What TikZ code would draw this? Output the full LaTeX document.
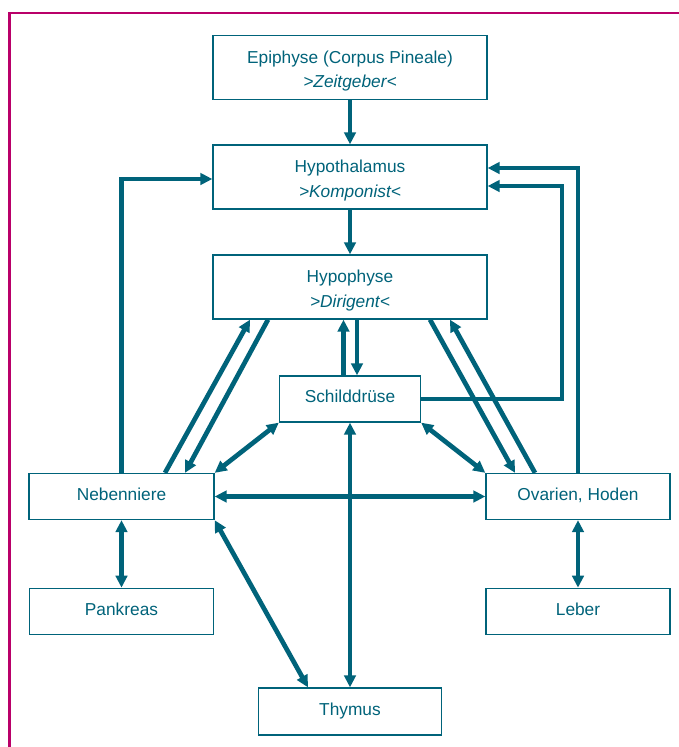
\documentclass[tikz,border=0pt]{standalone}
\usepackage{fontspec}
\setmainfont{Liberation Sans}
\usetikzlibrary{arrows.meta}
\definecolor{teal1}{RGB}{0,99,122}
\definecolor{frame1}{RGB}{185,0,105}
\begin{document}
\begin{tikzpicture}[x=1pt,y=-1pt,
  box/.style={draw=teal1,line width=1.3pt,fill=white,inner sep=0pt,minimum width=#1,minimum height=46pt,
    text=teal1,font=\fontsize{17.3}{20}\selectfont,text height=12.6pt,text depth=5pt},
  bigbox/.style={draw=teal1,line width=1.3pt,fill=white,inner sep=0pt,minimum width=274pt,minimum height=64pt},
  lbl/.style={anchor=base,inner sep=0pt,text=teal1,font=\fontsize{17.3}{20}\selectfont},
  ilbl/.style={lbl,font=\fontsize{17.3}{20}\selectfont\itshape},
  arr/.style={draw=teal1,line width=4.7pt,-{Triangle[length=12pt,width=11.5pt]}},
  darr/.style={draw=teal1,line width=4.7pt,{Triangle[length=12pt,width=11.5pt]}-{Triangle[length=12pt,width=11.5pt]}},
  fl/.style={draw=teal1,line width=4.7pt}
]
\useasboundingbox (0,0) rectangle (679,747);
\fill[white] (0,0) rectangle (679,747);
\draw[frame1,line width=2.5pt] (682,13) -- (9.5,13) -- (9.5,750);

% boxes
\node[bigbox] (epi) at (350,67.5) {};
\node[lbl] (epi1) at (350,63.3) {Epiphyse (Corpus Pineale)};
\node[ilbl] (epi2) at (350,87.7) {>Zeitgeber<};

\node[bigbox] (hth) at (350,177) {};
\node[lbl] (hth1) at (350,172.6) {Hypothalamus};
\node[ilbl] (hth2) at (350,197) {>Komponist<};

\node[bigbox] (hyp) at (350,287) {};
\node[lbl] (hyp1) at (350,282.6) {Hypophyse};
\node[ilbl] (hyp2) at (350,307) {>Dirigent<};

\node[box=141pt] (schild) at (350,399) {Schilddrüse};
\node[box=185pt] (neben) at (121.5,496.5) {Nebenniere};
\node[box=184pt] (ovar) at (578,496.5) {Ovarien, Hoden};
\node[box=184pt] (pank) at (121.5,611.3) {Pankreas};
\node[box=184pt] (leber) at (578,611.3) {Leber};
\node[box=183pt,minimum height=47pt] (thymus) at (350,711.5) {Thymus};

\coordinate (sc) at (562,399);

% connectors
\draw[arr] (epi.south) -- (hth.north);
\draw[arr] (hth.south) -- (hyp.north);
\draw[arr] ([xshift=-6.5pt]schild.north) -- ([xshift=-6.5pt]hyp.south);
\draw[arr] ([xshift=7pt]hyp.south) -- ([xshift=7pt]schild.north);

\draw[arr] (neben.north) |- ([yshift=-2pt]hth.west);
\draw[arr] (ovar.north) |- ([yshift=9pt]hth.east);
\draw[arr] (schild.east) -- (sc) |- ([yshift=-9pt]hth.east);

\draw[arr] ([xshift=43.5pt]neben.north) -- ([xshift=-100pt]hyp.south);
\draw[arr] ([xshift=-82pt]hyp.south) -- ([xshift=63.5pt]neben.north);
\draw[arr] ([xshift=80pt]hyp.south) -- ([xshift=-63pt]ovar.north);
\draw[arr] ([xshift=-43pt]ovar.north) -- ([xshift=100pt]hyp.south);

\draw[darr] (schild.south west) -- (neben.north east);
\draw[darr] (schild.south east) -- (ovar.north west);
\draw[darr] (neben.east) -- (ovar.west);
\draw[darr] (thymus.north) -- (schild.south);
\draw[darr] (neben.south east) -- ([xshift=-42pt]thymus.north);
\draw[darr] (neben.south) -- (pank.north);
\draw[darr] (ovar.south) -- (leber.north);
\end{tikzpicture}
\end{document}
